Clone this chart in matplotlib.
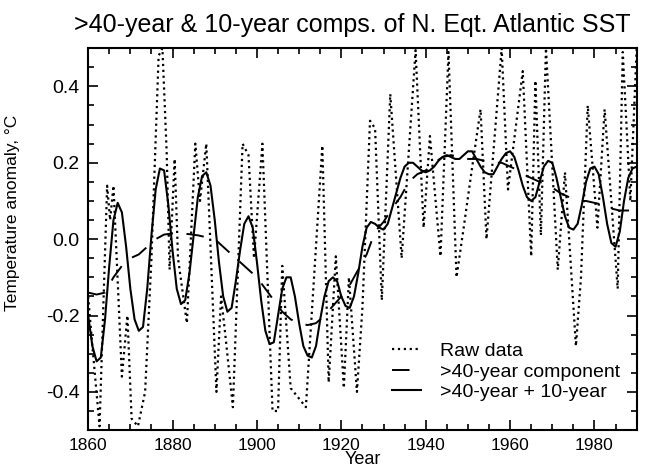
"""
>40-year & 10-year components of N. Equatorial Atlantic SST.
Recreation of a scanned black-and-white figure.
"""
import matplotlib
matplotlib.use("Agg")
import matplotlib.pyplot as plt
from matplotlib.ticker import MultipleLocator

plt.rcParams['font.family'] = ['Liberation Sans', 'DejaVu Sans']

# Raw data: turning points of the dotted trace (year, anomaly)
raw_years = [1860.0, 1861.0, 1862.7, 1864.5, 1865.2, 1866.0, 1868.0, 1869.3, 1870.3,
             1871.8, 1873.5, 1875.0, 1876.7, 1877.6, 1878.6, 1879.3, 1880.5, 1881.3,
             1883.4, 1885.4, 1886.5, 1888.0, 1890.4, 1891.5, 1892.5, 1894.3, 1896.6,
             1898.0, 1899.3, 1901.3, 1903.7, 1905.0, 1906.0, 1908.0, 1911.6, 1915.5,
             1917.0, 1918.7, 1920.6, 1921.8, 1923.7, 1925.0, 1926.8, 1928.0, 1929.6,
             1931.6, 1934.3, 1937.6, 1939.5, 1941.0, 1943.5, 1945.4, 1947.3, 1949.0,
             1950.9, 1953.0, 1954.4, 1958.0, 1959.5, 1963.0, 1965.0, 1966.0, 1967.3,
             1968.5, 1971.3, 1973.0, 1975.6, 1976.8, 1978.4, 1980.7, 1982.4, 1985.5,
             1986.7, 1988.5, 1990.0]
raw_values = [-0.15, -0.28, -0.49, 0.14, 0.05, 0.14, -0.36, -0.2, -0.47,
              -0.49, -0.40, -0.05, 0.48, 0.50, 0.23, -0.08, 0.21, -0.05,
              -0.22, 0.25, 0.10, 0.25, -0.40, -0.15, -0.25, -0.44, 0.25,
              0.22, -0.05, 0.25, -0.45, -0.45, -0.07, -0.39, -0.44, 0.245,
              -0.375, -0.045, -0.39, -0.10, -0.40, -0.18, 0.31, 0.29, -0.16,
              0.38, -0.05, 0.495, 0.03, 0.27, -0.045, 0.49, -0.10, 0.03,
              0.18, 0.34, 0.0, 0.50, 0.13, 0.44, -0.045, 0.415, 0.01,
              0.50, -0.08, 0.175, -0.28, -0.10, 0.35, 0.03, 0.34, -0.13,
              0.49, 0.10, 0.50]

# >40-year component (dashed)
low_years = list(range(1860, 1991, 2))
low_values = [-0.14, -0.145, -0.14, -0.10, -0.07, -0.05, -0.04, -0.02, 0.0, 0.012,
              0.015, 0.015, 0.013, 0.01, 0.005, 0.0, -0.02, -0.04, -0.06, -0.08,
              -0.10, -0.13, -0.16, -0.19, -0.21, -0.22, -0.225, -0.22, -0.20, -0.175,
              -0.15, -0.12, -0.08, -0.04, 0.02, 0.045, 0.08, 0.11, 0.15, 0.17,
              0.18, 0.20, 0.215, 0.22, 0.215, 0.21, 0.21, 0.205, 0.20, 0.20,
              0.19, 0.18, 0.165, 0.155, 0.145, 0.135, 0.12, 0.11, 0.10, 0.10,
              0.095, 0.09, 0.08, 0.075, 0.075, 0.08]

# >40-year + 10-year (solid)
comb_years = list(range(1860, 1991))
comb_values = [-0.20, -0.28, -0.32, -0.31, -0.21, -0.07, 0.05, 0.095, 0.07, -0.02,
               -0.13, -0.21, -0.24, -0.23, -0.13, 0.01, 0.13, 0.185, 0.18, 0.09,
               -0.03, -0.13, -0.17, -0.16, -0.09, 0.01, 0.11, 0.165, 0.175, 0.14,
               0.05, -0.06, -0.15, -0.19, -0.18, -0.11, -0.03, 0.04, 0.06, 0.03,
               -0.06, -0.16, -0.24, -0.275, -0.27, -0.20, -0.13, -0.10, -0.10, -0.15,
               -0.22, -0.28, -0.305, -0.31, -0.28, -0.21, -0.15, -0.11, -0.10, -0.11,
               -0.15, -0.175, -0.18, -0.15, -0.09, -0.02, 0.03, 0.045, 0.04, 0.03,
               0.025, 0.04, 0.08, 0.12, 0.16, 0.19, 0.20, 0.20, 0.19, 0.18,
               0.175, 0.18, 0.19, 0.205, 0.215, 0.22, 0.215, 0.21, 0.21, 0.22,
               0.23, 0.23, 0.21, 0.19, 0.175, 0.17, 0.17, 0.19, 0.21, 0.225,
               0.23, 0.215, 0.18, 0.14, 0.11, 0.10, 0.11, 0.15, 0.19, 0.205,
               0.20, 0.16, 0.11, 0.06, 0.03, 0.025, 0.04, 0.09, 0.15, 0.185,
               0.19, 0.17, 0.11, 0.04, -0.01, -0.02, 0.02, 0.10, 0.16, 0.185,
               0.19]

fig = plt.figure(figsize=(6.53, 4.68), dpi=100)
ax = fig.add_axes([0.135, 0.081, 0.84, 0.816])

ax.plot(raw_years, raw_values, color='black', linestyle=':', linewidth=1.6,
        label='Raw data')
ax.plot(low_years, low_values, color='black', linestyle=(0, (9, 7)), linewidth=1.4,
        label='>40-year component')
ax.plot(comb_years, comb_values, color='black', linestyle='-', linewidth=1.5,
        label='>40-year + 10-year')

ax.set_xlim(1860, 1990)
ax.set_ylim(-0.5, 0.5)
ax.xaxis.set_major_locator(MultipleLocator(20))
ax.xaxis.set_minor_locator(MultipleLocator(5))
ax.yaxis.set_major_locator(MultipleLocator(0.2))
ax.yaxis.set_minor_locator(MultipleLocator(0.05))
ax.tick_params(which='both', direction='in', top=True, right=True, width=1.2)
ax.tick_params(which='major', length=7)
ax.tick_params(which='minor', length=4)
ax.tick_params(axis='x', labelsize=12.5, pad=6)
ax.tick_params(axis='y', labelsize=14, pad=6)
ax.set_yticks([-0.4, -0.2, 0.0, 0.2, 0.4])
ax.set_yticklabels(['-0.4', '-0.2', '0.0', '0.2', '0.4'])
for s in ax.spines.values():
    s.set_linewidth(1.5)

ax.set_xlabel('Year', fontsize=13, labelpad=-2)
ax.set_ylabel('Temperature anomaly, \u00b0C', fontsize=12.5)
ax.yaxis.set_label_coords(-0.125, 0.57)
fig.text(0.54, 0.932, '>40-year & 10-year comps. of N. Eqt. Atlantic SST',
         ha='center', va='baseline', fontsize=18)

ax.legend(loc='lower right', frameon=False, fontsize=14, handlelength=1.5,
          handletextpad=1.0, labelspacing=0.15, borderaxespad=0.3,
          bbox_to_anchor=(0.995, 0.04))

fig.savefig('out.png', dpi=100)
